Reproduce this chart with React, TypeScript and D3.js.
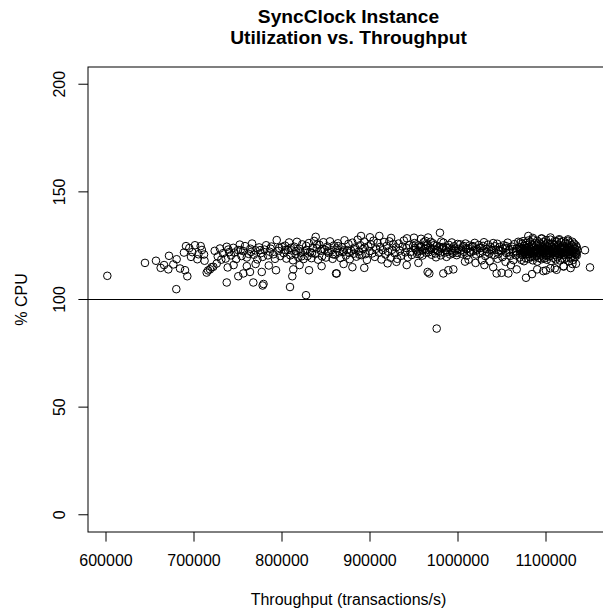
import React from "react";
import * as d3 from "d3";

// ---- Data ----
const title1 = "SyncClock Instance";
const title2 = "Utilization vs. Throughput";
const xLabel = "Throughput (transactions/s)";
const yLabel = "% CPU";
const xTicks = [600000, 700000, 800000, 900000, 1000000, 1100000];
const yTicks = [0, 50, 100, 150, 200];
const refLine = 100;

// sparse points at the low-throughput end
const leftPoints: [number, number][] = [
  [601500, 111], [644300, 117], [656800, 118], [662100, 114.7], [666000, 116], [671600, 120.3],
  [670800, 114], [676500, 116.3], [680300, 118.7], [679900, 104.8], [684100, 114.4], [689800, 113.6],
  [692400, 110.8], [690900, 124.8], [694700, 123.9], [701100, 125.2], [707600, 124.8], [688600, 121.8],
  [696600, 119.8], [703800, 118.7], [711400, 120.9], [714400, 112.5], [718200, 114], [721900, 115.2],
  [725800, 116.7], [716000, 113.5], [720000, 115], [698000, 122], [705000, 121], [709000, 123], [712000, 118],
];

// 720k - 800k
const band1: [number, number][] = [
  [723500, 122.6], [729500, 123.7], [737200, 124.5], [744700, 124], [727000, 120], [731000, 118.5],
  [733000, 121.5], [736000, 119], [740000, 122], [742000, 120.5], [746000, 121.8], [748000, 118.8],
  [750000, 123], [752000, 125.5], [754000, 120.2], [756000, 122.5], [758000, 124.8], [760000, 119.5],
  [762000, 121.2], [764000, 123.6], [766000, 126], [768000, 120.8], [770000, 122.8], [772000, 118.6],
  [774000, 124.2], [776000, 121.5], [778000, 119.8], [780000, 123.2], [782000, 125.2], [784000, 120.5],
  [786000, 122.2], [788000, 124.6], [790000, 121], [792000, 118.9], [794000, 127.6], [796000, 122.6],
  [798000, 120.2], [800000, 124.4],
  [738300, 114.9], [737200, 107.9], [750300, 110.8], [756000, 112.1], [763600, 112.8], [767400, 107.9],
  [778000, 106.5], [779000, 107.2], [777000, 112.8], [793200, 113.6], [745000, 116], [760000, 115.5],
  [770000, 116.5], [785000, 115.8],
  [739000, 123.2], [753000, 122.9], [765000, 122.1], [775000, 122.9], [787000, 123.6], [797000, 123.9],
];

// 800k - 900k
const band2: [number, number][] = [
  [802000, 121.5], [803500, 125], [805000, 119], [806500, 123], [808000, 126.5], [809500, 120.5],
  [811000, 122.8], [812500, 118.2], [814000, 124.5], [815500, 121], [817000, 126.8], [818500, 119.6],
  [820000, 123.5], [821500, 121.8], [823000, 125.6], [824500, 118.8], [826000, 122.4], [827500, 124.9],
  [829000, 120.2], [830500, 126.2], [832000, 122], [833500, 119.2], [835000, 124], [836500, 127.2],
  [838000, 121.2], [839500, 123.8], [841000, 118.5], [842500, 125.4], [844000, 122.6], [845500, 120],
  [847000, 126.6], [848500, 123.2], [850000, 119.5], [851500, 124.6], [853000, 121.6], [854500, 127],
  [856000, 122.9], [857500, 118.9], [859000, 125.1], [860500, 120.8], [862000, 123.7], [863500, 126.1],
  [865000, 121.9], [866500, 119.3], [868000, 124.3], [869500, 122.1], [871000, 127.5], [872500, 120.4],
  [874000, 123], [875500, 125.8], [877000, 118.7], [878500, 122.7], [880000, 126.4], [881500, 121.3],
  [883000, 124.1], [884500, 119.9], [886000, 127.8], [887500, 122.3], [889000, 125.2], [890500, 120.6],
  [892000, 123.4], [893500, 126.9], [895000, 121.1], [896500, 118.4], [898000, 124.7], [899500, 122.5],
  [804000, 123], [810000, 124], [816000, 122.5], [822000, 120], [828000, 123], [834000, 121.5],
  [840000, 125.5], [846000, 123.5], [852000, 122.3], [858000, 121], [864000, 124.8], [870000, 122.8],
  [876000, 121.7], [882000, 123.3], [888000, 120.8], [894000, 124.2],
  [809100, 105.8], [811700, 110.8], [812800, 114], [827300, 102], [830700, 113.6], [838300, 129.1],
  [861400, 112.1], [862200, 112.1], [820000, 116], [845000, 115.5], [870000, 116.5], [880000, 115],
  [889800, 129.5], [893500, 114.7],
];

// 900k - 1000k
const band3: [number, number][] = [
  [901000, 125.6], [902500, 121.4], [904000, 127.3], [905500, 119.8], [907000, 123.6], [908500, 126.3],
  [910000, 121.8], [911500, 124.4], [913000, 118.6], [914500, 122.9], [916000, 126.7], [917500, 120.9],
  [919000, 124.9], [920500, 122.2], [922000, 127], [923500, 119.4], [925000, 123.1], [926500, 125.7],
  [928000, 121.5], [929500, 124.2], [931000, 118.9], [932500, 126], [934000, 122.7], [935500, 120.3],
  [937000, 124.6], [938500, 127.4], [940000, 121.9], [941500, 123.9], [943000, 119.6], [944500, 125.3],
  [946000, 122.1], [947500, 120.7], [949000, 124.8],
  [950500, 126.2], [952000, 123.2], [953500, 121.2], [955000, 125.1], [956500, 122.6], [958000, 124.3],
  [959500, 120.4], [961000, 126.6], [962500, 123.5], [964000, 121.7], [965500, 125.5], [967000, 122.9],
  [968500, 124], [970000, 120.8], [971500, 126.1], [973000, 123.4], [974500, 121.4], [976000, 125],
  [977500, 122.4], [979000, 124.5], [980500, 120.5], [982000, 123.8], [983500, 126.4], [985000, 121.8],
  [986500, 124.1], [988000, 122.2], [989500, 125.4], [991000, 120.9], [992500, 123.1], [994000, 121.5],
  [995500, 124.7], [997000, 122.7], [998500, 120.6], [999500, 125.8],
  [957000, 121], [963000, 127.2], [969000, 126.8], [975000, 119.6], [981000, 126.9], [987000, 119.8],
  [993000, 126.5],
  [951000, 123.9], [954000, 122.3], [957500, 124.6], [960000, 122.8], [963500, 124.9], [966500, 121.9],
  [969500, 123.3], [972500, 125.2], [976500, 123.1], [980000, 121.9], [983000, 124.4], [986000, 122.9],
  [990000, 124], [993500, 122.4], [996500, 123.7], [999000, 121.7],
  [950000, 128.7], [958000, 128.2], [966000, 128.8], [942000, 128.4], [924000, 128.6], [900000, 128.9],
  [910600, 129.5], [941700, 116], [965500, 112.8], [967400, 112.1], [979500, 131], [983300, 112.1],
  [989000, 113.6], [994700, 114], [975800, 86.5], [955000, 117], [930000, 117.5], [920000, 116.8],
];

// 1000k - 1070k
const band4: [number, number][] = [
  [1001000, 123.5], [1002500, 125.6], [1004000, 121.3], [1005500, 124.2], [1007000, 122.1], [1008500, 126],
  [1010000, 120.4], [1011500, 123.8], [1013000, 125.1], [1014500, 121.9], [1016000, 124.5], [1017500, 122.6],
  [1019000, 126.3], [1020500, 120.9], [1022000, 123.3], [1023500, 125.3], [1025000, 121.6], [1026500, 124],
  [1028000, 122.3], [1029500, 126.6], [1031000, 120.2], [1032500, 123.6], [1034000, 125.5], [1035500, 121.4],
  [1037000, 124.3], [1038500, 122.8], [1040000, 126.2], [1041500, 120.7], [1043000, 123.1], [1044500, 125.9],
  [1046000, 121.2], [1047500, 124.4], [1049000, 122.5], [1050500, 119.7], [1052000, 125.2], [1053500, 123.9],
  [1055000, 121.6], [1056500, 126.4], [1058000, 122.9], [1059500, 120.3], [1061000, 124.6], [1062500, 122],
  [1064000, 125.7], [1065500, 120.6], [1067000, 123.7], [1068500, 126.8],
  [1003000, 122.8], [1006000, 124.9], [1009500, 123.4], [1013500, 122.2], [1017000, 124.8], [1021000, 122.7],
  [1024500, 123.9], [1028500, 124.9], [1033000, 122.1], [1037500, 123.2], [1042000, 124.7], [1046500, 122.9],
  [1051000, 123.6], [1054500, 124.8], [1058500, 121.9], [1062000, 123.4], [1066000, 122.4], [1069500, 124.1],
  [1012000, 118.5], [1027000, 118.2], [1036000, 117.8], [1045000, 118.9], [1054000, 117.5], [1063000, 118.3],
  [1008000, 117.6],
  [1043900, 112.1], [1049600, 112.4], [1057200, 112.1], [1066700, 114], [1040000, 115], [1030000, 116],
  [1020000, 117], [1060000, 116],
];

// dense cluster 1070k - 1135k
const denseX = [
  1070000, 1071000, 1072000, 1073000, 1074000, 1075000, 1076000, 1077000, 1078000, 1079000, 1080000,
  1081000, 1082000, 1083000, 1084000, 1085000, 1086000, 1087000, 1088000, 1089000, 1090000, 1091000,
  1092000, 1093000, 1094000, 1095000, 1096000, 1097000, 1098000, 1099000, 1100000, 1101000, 1102000,
  1103000, 1104000, 1105000, 1106000, 1107000, 1108000, 1109000, 1110000, 1111000, 1112000, 1113000,
  1114000, 1115000, 1116000, 1117000, 1118000, 1119000, 1120000, 1121000, 1122000, 1123000, 1124000,
  1125000, 1126000, 1127000, 1128000, 1129000, 1130000, 1131000, 1132000, 1133000, 1134000, 1135000,
];
const denseUpper = [
  124.2, 126.5, 123.4, 125.8, 127.1, 124.9, 122.8, 126.2, 125.3, 123.7, 127.4, 124.5, 126.8, 123.2, 125.6,
  127.9, 124.1, 126.1, 122.9, 125.1, 127.3, 124.7, 126.4, 123.5, 125.9, 128.2, 124.3, 126.7, 123.9, 125.4,
  127.6, 124.8, 126.3, 123.1, 125.7, 127.8, 124.6, 126, 123.6, 125.2, 127.2, 124.4, 126.9, 123.3, 125.5,
  127.5, 124, 126.6, 123.8, 125, 127, 124.5, 126.2, 123.4, 125.8, 127.3, 124.2, 126.5, 123, 125.3, 126.8,
  124.6, 125.9, 123.7, 125.1, 124.3,
];
const denseLower = [
  119.5, 121.2, 118.4, 120.6, 122.1, 117.8, 121.7, 119.2, 120.9, 122.4, 118.9, 121, 119.8, 122.6, 120.3,
  118.2, 121.5, 119.6, 122.2, 120.1, 117.6, 121.9, 119.3, 120.7, 122.7, 118.7, 121.3, 120, 119.1, 122.3,
  120.5, 118.5, 121.6, 119.9, 122.8, 120.2, 117.9, 121.4, 119.4, 122, 120.8, 118.6, 121.8, 119.7, 122.5,
  120.4, 118.1, 121.1, 119, 122.9, 120.6, 118.8, 121.5, 119.5, 122.1, 120.9, 117.7, 121.2, 119.2, 122.4,
  120.3, 118.4, 121.7, 119.8, 121, 120.5,
];
const denseMiddle = [
  123, 122.5, 121.8, 123.6, 122.9, 121.5, 123.3, 122.1, 123.9, 121.9, 122.7, 123.5, 122.2, 121.6, 123.8,
  122.4, 121.3, 123.1, 122.8, 121.7, 123.4, 122, 123.7, 121.4, 122.6, 123.2, 122.3, 121.8, 123.6, 122.9,
  121.2, 123, 122.5, 123.9, 121.6, 122.1, 123.3, 122.7, 121.9, 123.5, 122.4, 121.5, 123.1, 122.8, 121.3,
  123.7, 122.2, 121.7, 123.4, 122, 123.8, 121.4, 122.6, 123.2, 121.9, 122.9, 123.6, 121.1, 122.3, 123,
  121.8, 122.5, 123.4, 122.1, 121.6, 122.8,
];

const rightPoints: [number, number][] = [
  [1077300, 110.1], [1084100, 111.8], [1079900, 129.5], [1144300, 122.9], [1150000, 114.9],
  [1090000, 114], [1100000, 113.5], [1110000, 114.5], [1120000, 115.5], [1130000, 116.5],
  [1085000, 128.6], [1095000, 128.4], [1105000, 128.8], [1115000, 128], [1125000, 127.9],
  [1097000, 113.2], [1105000, 114.5], [1112000, 113.8], [1120000, 115.3], [1128000, 114.6], [1134000, 116.6],
];

// ---- Layout ----
const W = 603;
const H = 614;
const box = { left: 88, top: 67, bottom: 532, right: 610 };
const FONT = "'Liberation Sans', Arial, Helvetica, sans-serif";

export default function App() {
  const x = d3.scaleLinear().domain([579545, 1172727]).range([box.left, box.right]);
  const y = d3.scaleLinear().domain([-8, 208]).range([box.bottom, box.top]);

  const dense: [number, number][] = [];
  denseX.forEach((xv, i) => {
    if (denseUpper[i] !== undefined) dense.push([xv, denseUpper[i]]);
    if (denseLower[i] !== undefined) dense.push([xv, denseLower[i]]);
    if (denseMiddle[i] !== undefined) dense.push([xv + 500, denseMiddle[i]]);
  });

  const all = [...leftPoints, ...band1, ...band2, ...band3, ...band4, ...dense, ...rightPoints];
  const tickLen = 9.6;

  return (
    <div style={{ position: "absolute", left: 0, top: 0 }}>
      <svg width={W} height={H} style={{ display: "block", background: "#fff" }} fontFamily={FONT}>
        <rect x={0} y={0} width={W} height={H} fill="#fff" />
        {/* title */}
        <text x={348.5} y={23} textAnchor="middle" fontSize={19.2} fontWeight="bold" fill="#000">
          {title1}
        </text>
        <text x={348.5} y={44} textAnchor="middle" fontSize={19.2} fontWeight="bold" fill="#000">
          {title2}
        </text>

        {/* points */}
        <g fill="none" stroke="#000" strokeWidth={1}>
          {all.map((d, i) => (
            <circle key={i} cx={x(d[0])} cy={y(d[1])} r={3.8} />
          ))}
        </g>

        {/* reference line */}
        <line x1={box.left} x2={W} y1={y(refLine)} y2={y(refLine)} stroke="#000" strokeWidth={1} />

        {/* box */}
        <rect
          x={box.left}
          y={box.top}
          width={box.right - box.left}
          height={box.bottom - box.top}
          fill="none"
          stroke="#000"
          strokeWidth={1}
        />

        {/* x axis */}
        {xTicks.map((t) => (
          <g key={t}>
            <line x1={x(t)} x2={x(t)} y1={box.bottom} y2={box.bottom + tickLen} stroke="#000" strokeWidth={1} />
            <text x={x(t)} y={566} textAnchor="middle" fontSize={16} fill="#000">
              {t}
            </text>
          </g>
        ))}
        <text x={348.5} y={605} textAnchor="middle" fontSize={16} fill="#000">
          {xLabel}
        </text>

        {/* y axis */}
        {yTicks.map((t) => (
          <g key={t}>
            <line x1={box.left - tickLen} x2={box.left} y1={y(t)} y2={y(t)} stroke="#000" strokeWidth={1} />
            <text
              transform={`translate(65,${y(t)}) rotate(-90)`}
              textAnchor="middle"
              fontSize={16}
              fill="#000"
            >
              {t}
            </text>
          </g>
        ))}
        <text
          transform={`translate(27,${(box.top + box.bottom) / 2}) rotate(-90)`}
          textAnchor="middle"
          fontSize={16}
          fill="#000"
        >
          {yLabel}
        </text>
      </svg>
    </div>
  );
}
